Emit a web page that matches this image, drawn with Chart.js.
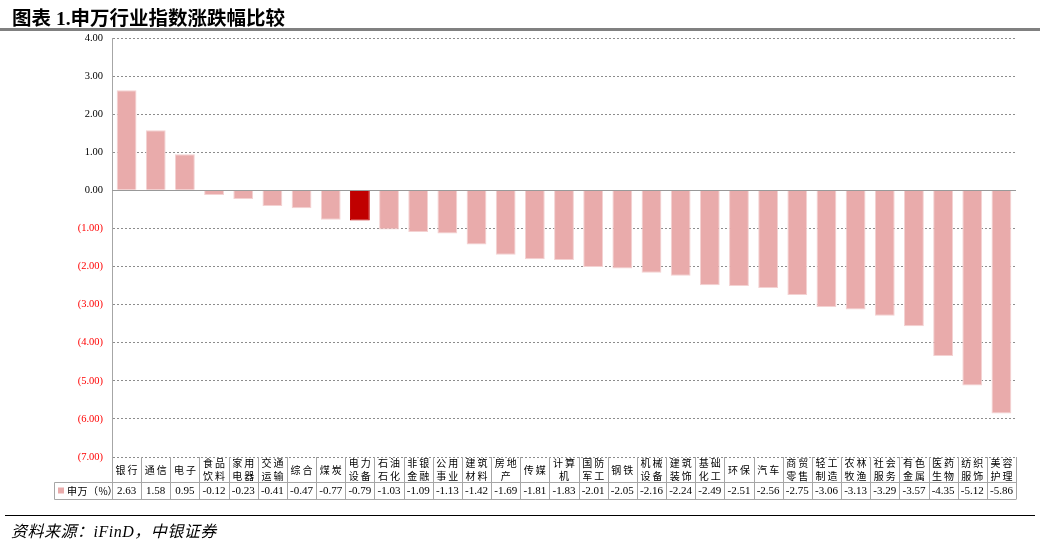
<!DOCTYPE html>
<html>
<head>
<meta charset="utf-8">
<script src="https://cdn.jsdelivr.net/npm/chart.js@4.4.0/dist/chart.umd.min.js"></script>
<style>
  body { margin: 0; background: #fff; }
  #wrap { position: relative; width: 1046px; height: 540px; overflow: hidden; }
  #chart { position: absolute; left: 0; top: 0; }
  .title {
    position: absolute; left: 12px; top: 2px;
    font: bold 19.5px "Liberation Serif", "Noto Sans CJK SC", serif;
    color: #000; white-space: nowrap;
  }
  .title-rule { position: absolute; left: 0; top: 28px; width: 1040px; height: 3px; background: #808080; }
  .foot-rule { position: absolute; left: 5px; top: 515px; width: 1030px; height: 1px; background: #000; }
  .source {
    position: absolute; left: 11px; top: 518px;
    font: italic 16px "Liberation Serif", "Noto Sans CJK SC", serif;
    letter-spacing: 0.5px;
    color: #000; white-space: nowrap;
  }
</style>
</head>
<body>
<div id="wrap">
  <canvas id="chart" width="1046" height="540"></canvas>
  <div class="title">图表 1.申万行业指数涨跌幅比较</div>
  <div class="title-rule"></div>
  <div class="foot-rule"></div>
  <div class="source">资料来源：iFinD，中银证券</div>
</div>
<script>
// Data
const categories = ['银行', '通信', '电子', '食品饮料', '家用电器', '交通运输', '综合', '煤炭', '电力设备', '石油石化',
    '非银金融', '公用事业', '建筑材料', '房地产', '传媒', '计算机', '国防军工', '钢铁', '机械设备', '建筑装饰',
    '基础化工', '环保', '汽车', '商贸零售', '轻工制造', '农林牧渔', '社会服务', '有色金属', '医药生物', '纺织服饰', '美容护理'];
const values = [2.63, 1.58, 0.95, -0.12, -0.23, -0.41, -0.47, -0.77, -0.79, -1.03,
    -1.09, -1.13, -1.42, -1.69, -1.81, -1.83, -2.01, -2.05, -2.16, -2.24,
    -2.49, -2.51, -2.56, -2.75, -3.06, -3.13, -3.29, -3.57, -4.35, -5.12, -5.86];
const seriesName = '申万（%）';
const highlight = '电力设备';
const yTicks = [4, 3, 2, 1, 0, -1, -2, -3, -4, -5, -6, -7];

const PINK = '#E9ABAB';
const RED = '#C00000';
const LINE = '#A6A6A6';
const SERIF = '"Liberation Serif", "Times New Roman", serif';
const CJK = '"Noto Sans CJK SC", sans-serif';

// draws zero line + data table under the axis
const tablePlugin = {
    id: 'tablePlugin',
    afterDatasetsDraw(chart) {
        const { ctx, chartArea: a, scales: { y } } = chart;
        const y0 = Math.round(y.getPixelForValue(0)) + 0.5;
        ctx.save();
        ctx.strokeStyle = '#999999';
        ctx.lineWidth = 1;
        ctx.beginPath();
        ctx.moveTo(a.left, y0);
        ctx.lineTo(a.right, y0);
        ctx.stroke();
        ctx.restore();
    },
    afterDraw(chart) {
        const { ctx, chartArea: a, scales: { x } } = chart;
        const top = a.bottom;
        const mid = top + 25.5;
        const bot = top + 42.5;
        const legLeft = 54.5;
        const colW = (a.right - a.left) / categories.length;

        ctx.save();
        ctx.strokeStyle = LINE;
        ctx.lineWidth = 1;
        ctx.beginPath();
        for (let i = 0; i <= categories.length; i++) {
            const xx = Math.round(a.left + i * colW) + 0.5;
            ctx.moveTo(xx, top);
            ctx.lineTo(xx, bot);
        }
        ctx.moveTo(legLeft, mid); ctx.lineTo(a.right, mid);
        ctx.moveTo(legLeft, bot); ctx.lineTo(a.right, bot);
        ctx.moveTo(legLeft, mid); ctx.lineTo(legLeft, bot);
        ctx.stroke();

        ctx.textAlign = 'center';
        ctx.textBaseline = 'middle';
        ctx.fillStyle = '#000';

        // category labels, two characters per line
        ctx.font = '10px ' + CJK;
        categories.forEach((c, i) => {
            const cx = x.getPixelForValue(i);
            const lines = [];
            for (let k = 0; k < c.length; k += 2) lines.push(c.slice(k, k + 2));
            const ys = lines.length === 1 ? [top + 13.5] : [top + 6.5, top + 19];
            lines.forEach((ln, li) => {
                const chars = ln.split('');
                const step = 12;
                const start = cx - (chars.length - 1) * step / 2;
                chars.forEach((ch, ci) => ctx.fillText(ch, start + ci * step, ys[li]));
            });
        });

        // values row
        ctx.font = '11px ' + SERIF;
        values.forEach((v, i) => {
            ctx.fillText(v.toFixed(2), x.getPixelForValue(i), mid + 8.5);
        });

        // legend cell
        ctx.fillStyle = PINK;
        ctx.fillRect(58, mid + 5, 6, 6);
        ctx.fillStyle = '#000';
        ctx.textAlign = 'left';
        ctx.font = '10px ' + CJK;
        let lx = 67;
        seriesName.split('').forEach(ch => {
            ctx.fillText(ch, lx, mid + 8.5);
            lx += ch === '%' ? 9 : 10.5;
        });
        ctx.restore();
    }
};

const ctx = document.getElementById('chart').getContext('2d');
new Chart(ctx, {
    type: 'bar',
    data: {
        labels: categories,
        datasets: [{
            label: seriesName,
            data: values,
            backgroundColor: categories.map(c => c === highlight ? RED : PINK),
            borderColor: categories.map(c => c === highlight ? RED : '#F4D2D2'),
            borderWidth: 1,
            barPercentage: 0.68,
            categoryPercentage: 1
        }]
    },
    options: {
        responsive: false,
        animation: false,
        layout: { padding: { top: 38, right: 30, bottom: 40, left: 0 } },
        plugins: { legend: { display: false }, tooltip: { enabled: false } },
        scales: {
            x: {
                grid: { display: false },
                border: { display: false },
                ticks: { display: false },
                afterFit: s => { s.height = 43; }
            },
            y: {
                min: -7,
                max: 4,
                afterBuildTicks: s => { s.ticks = yTicks.map(v => ({ value: v })); },
                afterFit: s => { s.width = 112; },
                grid: { color: '#8C8C8C', drawTicks: false, lineWidth: 1 },
                border: { display: true, color: LINE, dash: [2, 2] },
                ticks: {
                    autoSkip: false,
                    padding: 9,
                    font: { family: SERIF, size: 10.5 },
                    color: c => c.tick.value < 0 ? '#FF0000' : '#000000',
                    callback: v => v < 0 ? '(' + Math.abs(v).toFixed(2) + ')' : v.toFixed(2)
                }
            }
        }
    },
    plugins: [tablePlugin]
});
</script>
</body>
</html>
